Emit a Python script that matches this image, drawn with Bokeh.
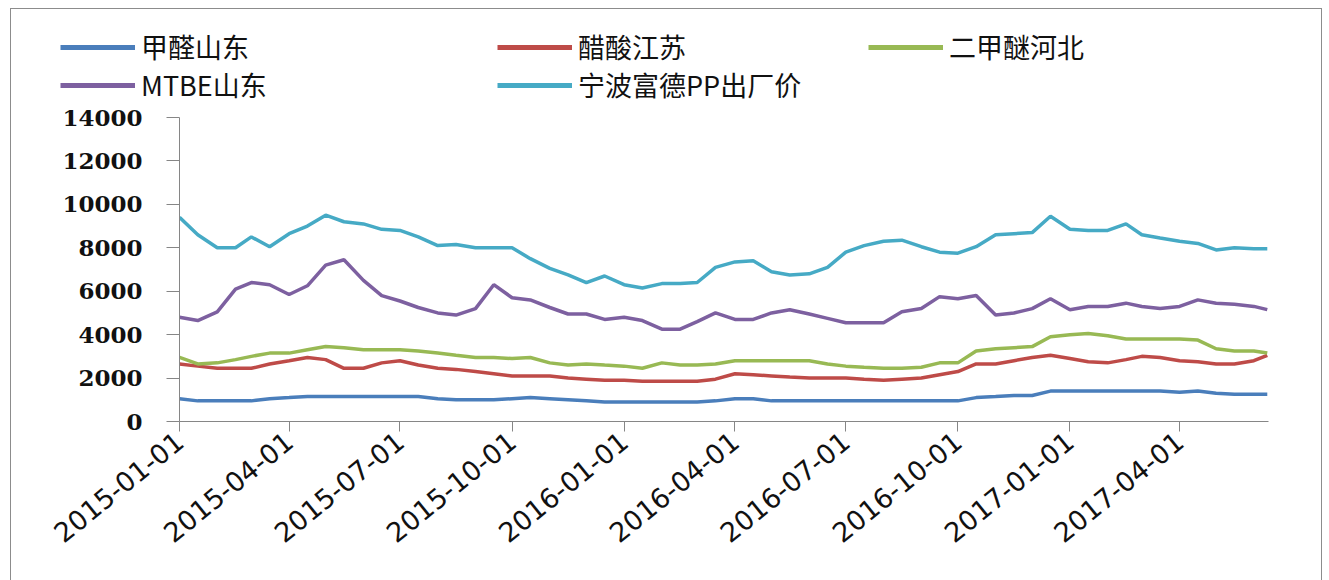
import pandas as pd
from bokeh.plotting import figure
from bokeh.layouts import column
from bokeh.models import (ColumnDataSource, Legend, LegendItem, FixedTicker, Range1d,
                          DatetimeTickFormatter, NumeralTickFormatter)
from bokeh.embed import file_html
from bokeh.resources import INLINE

# ---------------- data ----------------
dates = [
    "2015-01-01", "2015-01-16", "2015-02-01", "2015-02-16", "2015-03-01", "2015-03-16",
    "2015-04-01", "2015-04-16", "2015-05-01", "2015-05-16", "2015-06-01", "2015-06-16",
    "2015-07-01", "2015-07-16", "2015-08-01", "2015-08-16", "2015-09-01", "2015-09-16",
    "2015-10-01", "2015-10-16", "2015-11-01", "2015-11-16", "2015-12-01", "2015-12-16",
    "2016-01-01", "2016-01-16", "2016-02-01", "2016-02-16", "2016-03-01", "2016-03-16",
    "2016-04-01", "2016-04-16", "2016-05-01", "2016-05-16", "2016-06-01", "2016-06-16",
    "2016-07-01", "2016-07-16", "2016-08-01", "2016-08-16", "2016-09-01", "2016-09-16",
    "2016-10-01", "2016-10-16", "2016-11-01", "2016-11-16", "2016-12-01", "2016-12-16",
    "2017-01-01", "2017-01-16", "2017-02-01", "2017-02-16", "2017-03-01", "2017-03-16",
    "2017-04-01", "2017-04-16", "2017-05-01", "2017-05-16", "2017-06-01", "2017-06-12",
]

formaldehyde_shandong = [
    1050, 950, 950, 950, 950, 1050, 1100, 1150, 1150, 1150, 1150, 1150,
    1150, 1150, 1050, 1000, 1000, 1000, 1050, 1100, 1050, 1000, 950, 900,
    900, 900, 900, 900, 900, 950, 1050, 1050, 950, 950, 950, 950,
    950, 950, 950, 950, 950, 950, 950, 1100, 1150, 1200, 1200, 1400,
    1400, 1400, 1400, 1400, 1400, 1400, 1350, 1400, 1300, 1250, 1250, 1250,
]

acetic_acid_jiangsu = [
    2650, 2550, 2450, 2450, 2450, 2650, 2800, 2950, 2850, 2450, 2450, 2700,
    2800, 2600, 2450, 2400, 2300, 2200, 2100, 2100, 2100, 2000, 1950, 1900,
    1900, 1850, 1850, 1850, 1850, 1950, 2200, 2150, 2100, 2050, 2000, 2000,
    2000, 1950, 1900, 1950, 2000, 2150, 2300, 2650, 2650, 2800, 2950, 3050,
    2900, 2750, 2700, 2850, 3000, 2950, 2800, 2750, 2650, 2650, 2800, 3050,
]

dme_hebei = [
    2950, 2650, 2700, 2850, 3000, 3150, 3150, 3300, 3450, 3400, 3300, 3300,
    3300, 3250, 3150, 3050, 2950, 2950, 2900, 2950, 2700, 2600, 2650, 2600,
    2550, 2450, 2700, 2600, 2600, 2650, 2800, 2800, 2800, 2800, 2800, 2650,
    2550, 2500, 2450, 2450, 2500, 2700, 2700, 3250, 3350, 3400, 3450, 3900,
    4000, 4050, 3950, 3800, 3800, 3800, 3800, 3750, 3350, 3250, 3250, 3150,
]

mtbe_shandong = [
    4800, 4650, 5050, 6100, 6400, 6300, 5850, 6250, 7200, 7450, 6500, 5800,
    5550, 5250, 5000, 4900, 5200, 6300, 5700, 5600, 5250, 4950, 4950, 4700,
    4800, 4650, 4250, 4250, 4600, 5000, 4700, 4700, 5000, 5150, 4950, 4750,
    4550, 4550, 4550, 5050, 5200, 5750, 5650, 5800, 4900, 5000, 5200, 5650,
    5150, 5300, 5300, 5450, 5300, 5200, 5300, 5600, 5450, 5400, 5300, 5150,
]

ningbo_pp_price = [
    9400, 8600, 8000, 8000, 8500, 8050, 8650, 9000, 9500, 9200, 9100, 8850,
    8800, 8500, 8100, 8150, 8000, 8000, 8000, 7500, 7050, 6750, 6400, 6700,
    6300, 6150, 6350, 6350, 6400, 7100, 7350, 7400, 6900, 6750, 6800, 7100,
    7800, 8100, 8300, 8350, 8050, 7800, 7750, 8050, 8600, 8650, 8700, 9450,
    8850, 8800, 8800, 9100, 8600, 8450, 8300, 8200, 7900, 8000, 7950, 7950,
]

series_names = ["甲醛山东", "醋酸江苏", "二甲醚河北", "MTBE山东", "宁波富德PP出厂价"]
series_values = [formaldehyde_shandong, acetic_acid_jiangsu, dme_hebei,
                 mtbe_shandong, ningbo_pp_price]
series_colors = ["#4A7EBB", "#BE4B48", "#98B954", "#7D60A0", "#46AAC5"]

y_ticks = [0, 2000, 4000, 6000, 8000, 10000, 12000, 14000]
x_tick_labels = ["2015-01-01", "2015-04-01", "2015-07-01", "2015-10-01", "2016-01-01",
                 "2016-04-01", "2016-07-01", "2016-10-01", "2017-01-01", "2017-04-01"]

# ---------------- legend strip (top) ----------------
LEG_W, LEG_H = 1310, 95
leg_fig = figure(width=LEG_W, height=LEG_H, output_backend="svg", toolbar_location=None,
                 x_range=Range1d(0, 10), y_range=Range1d(0, 10),
                 x_axis_location=None, y_axis_location=None,
                 min_border=0, min_border_left=0, min_border_right=0,
                 min_border_top=0, min_border_bottom=0)
leg_fig.frame_align = False
leg_fig.outline_line_color = None
leg_fig.grid.visible = False
leg_fig.background_fill_color = "white"
leg_fig.border_fill_color = "white"

legend_pos = [(49, 38), (486, 38), (857, 38), (49, 0), (486, 0)]
for name, col, pos in zip(series_names, series_colors, legend_pos):
    # key-only line kept outside the visible range of the strip
    dummy = leg_fig.line(x=[-20, -10], y=[-20, -20], line_color=col, line_width=5)
    leg = Legend(items=[LegendItem(label=name, renderers=[dummy])], location=pos,
                 orientation="horizontal", glyph_width=75, glyph_height=20,
                 label_standoff=6, padding=0, margin=0, spacing=0,
                 border_line_color=None, background_fill_alpha=0,
                 label_text_font="Noto Sans CJK SC", label_text_font_size="27px",
                 label_text_color="#111111")
    leg_fig.add_layout(leg)

# ---------------- main chart ----------------
x_dt = pd.to_datetime(dates)

p = figure(width=1310, height=476, x_axis_type="datetime",
           output_backend="svg", toolbar_location=None,
           x_range=Range1d(pd.Timestamp("2015-01-01"), pd.Timestamp("2017-06-13")),
           y_range=Range1d(0, 14000),
           min_border_left=168, min_border_right=53,
           min_border_top=13, min_border_bottom=159)
p.frame_align = False
p.background_fill_color = "white"
p.border_fill_color = "white"
p.outline_line_color = None
p.xgrid.visible = False
p.ygrid.visible = False

for name, vals, col in zip(series_names, series_values, series_colors):
    src = ColumnDataSource(dict(x=x_dt, y=vals))
    p.line("x", "y", source=src, line_color=col, line_width=3.5)

# x axis
xa = p.xaxis[0]
xa.ticker = FixedTicker(ticks=[pd.Timestamp(s).value / 1e6 for s in x_tick_labels])
fmt = "%Y-%m-%d"
xa.formatter = DatetimeTickFormatter(microseconds=fmt, milliseconds=fmt, seconds=fmt,
                                     minsec=fmt, minutes=fmt, hourmin=fmt, hours=fmt,
                                     days=fmt, months=fmt, years=fmt)
xa.major_label_orientation = 0.68
xa.major_label_text_font = "DejaVu Sans"
xa.major_label_text_font_size = "27px"
xa.major_label_text_color = "#111111"
xa.major_label_standoff = 6
xa.axis_line_color = "#868686"
xa.major_tick_line_color = "#868686"
xa.major_tick_out = 10
xa.major_tick_in = 0
xa.minor_tick_line_color = None

# y axis
ya = p.yaxis[0]
ya.ticker = FixedTicker(ticks=y_ticks)
ya.formatter = NumeralTickFormatter(format="0")
ya.major_label_text_font = "DejaVu Serif"
ya.major_label_text_font_style = "bold"
ya.major_label_text_font_size = "23px"
ya.major_label_text_color = "#111111"
ya.major_label_standoff = 24
ya.axis_line_color = "#868686"
ya.major_tick_line_color = "#868686"
ya.major_tick_out = 13
ya.major_tick_in = 0
ya.minor_tick_line_color = None

layout = column(leg_fig, p, spacing=0, margin=(8, 0, 0, 10),
                styles={"border": "1px solid #8c8c8c", "background-color": "white"})

open("out.html", "w").write(file_html(layout, INLINE))
